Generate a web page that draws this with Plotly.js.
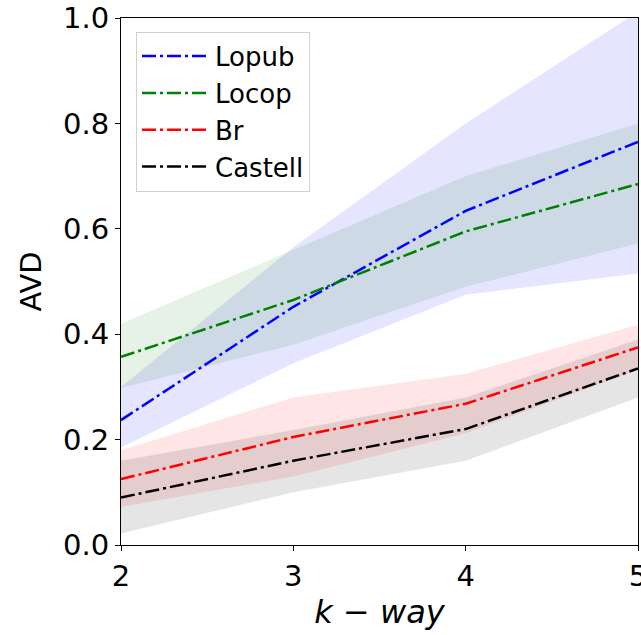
<!DOCTYPE html>
<html>
<head>
<meta charset="utf-8">
<script src="https://cdn.plot.ly/plotly-3.0.1.min.js"></script>
<style>html,body{margin:0;padding:0;background:#fff;}#chart{width:641px;height:635px;}</style>
</head>
<body>
<div id="chart"></div>
<script>
// k-way values
const kWay = [2, 3, 4, 5];

// Lopub
const lopubMean  = [0.237, 0.452, 0.634, 0.765];
const lopubUpper = [0.300, 0.565, 0.800, 1.012];
const lopubLower = [0.185, 0.345, 0.475, 0.515];

// Locop
const locopMean  = [0.357, 0.465, 0.595, 0.685];
const locopUpper = [0.420, 0.560, 0.700, 0.800];
const locopLower = [0.298, 0.380, 0.490, 0.572];

// Br
const brMean  = [0.125, 0.205, 0.268, 0.375];
const brUpper = [0.180, 0.280, 0.325, 0.418];
const brLower = [0.072, 0.130, 0.212, 0.332];

// Castell
const castellMean  = [0.090, 0.160, 0.220, 0.335];
const castellUpper = [0.160, 0.218, 0.280, 0.390];
const castellLower = [0.022, 0.100, 0.160, 0.280];

const seriesNames = ['Lopub', 'Locop', 'Br', 'Castell'];
const series = [
  {name: seriesNames[0], mean: lopubMean, up: lopubUpper, lo: lopubLower, color: '#0000ff', fill: 'rgba(0,0,255,0.1)'},
  {name: seriesNames[1], mean: locopMean, up: locopUpper, lo: locopLower, color: '#008000', fill: 'rgba(0,128,0,0.1)'},
  {name: seriesNames[2], mean: brMean, up: brUpper, lo: brLower, color: '#ff0000', fill: 'rgba(255,0,0,0.1)'},
  {name: seriesNames[3], mean: castellMean, up: castellUpper, lo: castellLower, color: '#000000', fill: 'rgba(0,0,0,0.1)'}
];

const traces = [];
series.forEach(s => {
  traces.push({
    x: kWay.concat(kWay.slice().reverse()),
    y: s.up.concat(s.lo.slice().reverse()),
    type: 'scatter', mode: 'lines', fill: 'toself',
    fillcolor: s.fill, line: {width: 0, color: s.fill},
    showlegend: false, hoverinfo: 'skip'
  });
});
series.forEach(s => {
  traces.push({
    x: kWay, y: s.mean, name: s.name,
    type: 'scatter', mode: 'lines',
    line: {color: s.color, width: 2.5, dash: '14px,4px,3px,4px'}
  });
});

const font = 'DejaVu Sans, sans-serif';
const layout = {
  width: 641, height: 635,
  margin: {l: 121, r: 3, t: 18, b: 90},
  paper_bgcolor: '#fff', plot_bgcolor: '#fff',
  showlegend: true,
  legend: {
    x: 0.029, y: 0.974, xanchor: 'left', yanchor: 'top',
    bgcolor: 'rgba(255,255,255,0.8)', bordercolor: '#d0d0d0', borderwidth: 1,
    font: {family: font, size: 26, color: '#000'},
    itemwidth: 68,
    tracegroupgap: 0
  },
  xaxis: {
    range: [2, 5], tickvals: kWay, ticktext: kWay.map(String),
    showgrid: false, zeroline: false,
    showline: true, mirror: true, linecolor: '#000', linewidth: 1,
    ticks: 'outside', ticklen: 5, tickcolor: '#000',
    ticklabeloverflow: 'allow',
    tickfont: {family: font, size: 29, color: '#000'},
    title: {text: '<i>k</i> − <i>way</i>', font: {family: font, size: 32, color: '#000'}, standoff: 8}
  },
  yaxis: {
    range: [0, 1], tickvals: [0, 0.2, 0.4, 0.6, 0.8, 1.0], tickformat: '.1f',
    showgrid: false, zeroline: false,
    showline: true, mirror: true, linecolor: '#000', linewidth: 1,
    ticks: 'outside', ticklen: 5, tickcolor: '#000',
    ticklabeloverflow: 'allow',
    tickfont: {family: font, size: 29, color: '#000'},
    title: {text: 'AVD', font: {family: font, size: 29, color: '#000'}, standoff: 12}
  }
};

Plotly.newPlot('chart', traces, layout, {displayModeBar: false, staticPlot: true});
</script>
</body>
</html>
